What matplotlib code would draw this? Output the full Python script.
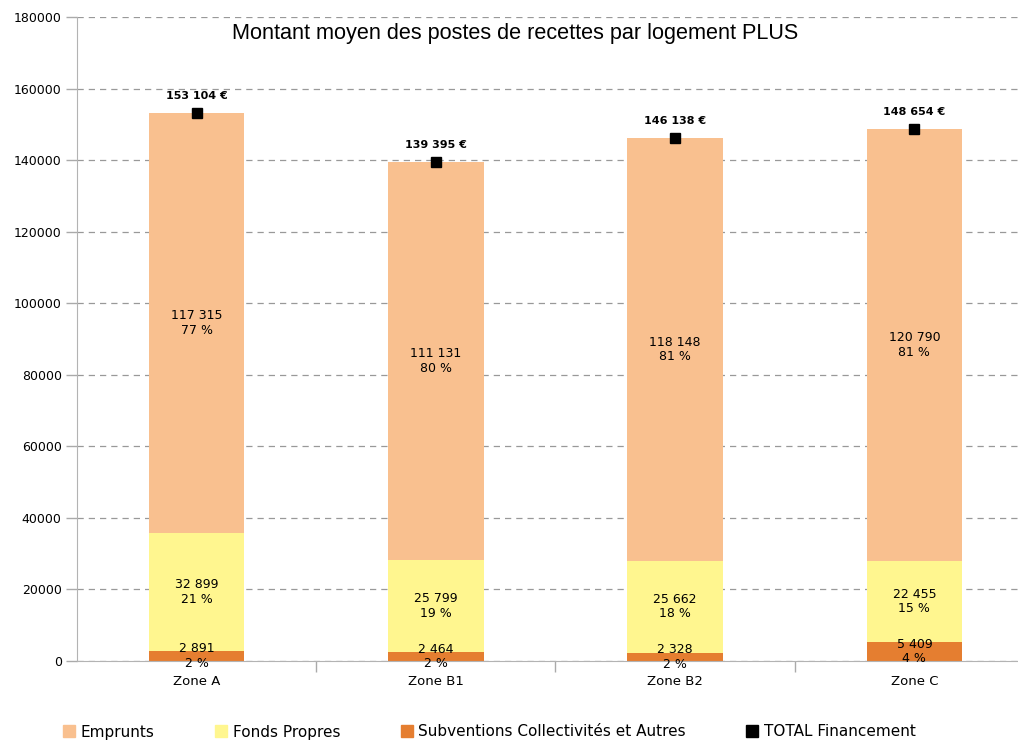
import matplotlib
matplotlib.use("Agg")
import matplotlib.pyplot as plt
from matplotlib.lines import Line2D
import numpy as np

zones = ["Zone A", "Zone B1", "Zone B2", "Zone C"]
subventions = [2891, 2464, 2328, 5409]
fonds_propres = [32899, 25799, 25662, 22455]
emprunts = [117315, 111131, 118148, 120790]
totaux = [153104, 139395, 146138, 148654]
pct_sub = [2, 2, 2, 4]
pct_fonds = [21, 19, 18, 15]
pct_emp = [77, 80, 81, 81]

c_emp = "#F9C08F"
c_fonds = "#FFF68F"
c_sub = "#E57E30"


def fmt(v):
    return "{:,}".format(v).replace(",", " ")


fig = plt.figure(figsize=(10.18, 7.43), dpi=100)
ax = fig.add_axes([0.0756, 0.1104, 0.9244, 0.8667])

x = np.arange(len(zones))
w = 0.4
sub = np.array(subventions)
fp = np.array(fonds_propres)
em = np.array(emprunts)

ax.bar(x, sub, w, color=c_sub, zorder=2)
ax.bar(x, fp, w, bottom=sub, color=c_fonds, zorder=2)
ax.bar(x, em, w, bottom=sub + fp, color=c_emp, zorder=2)
ax.plot(x, totaux, "s", color="black", markersize=7, zorder=4)

for i in range(len(zones)):
    ax.text(x[i], sub[i] / 2, fmt(subventions[i]) + "\n" + str(pct_sub[i]) + " %",
            ha="center", va="center", fontsize=9, zorder=5, linespacing=1.15)
    ax.text(x[i], sub[i] + fp[i] / 2, fmt(fonds_propres[i]) + "\n" + str(pct_fonds[i]) + " %",
            ha="center", va="center", fontsize=9, zorder=5, linespacing=1.15)
    ax.text(x[i], sub[i] + fp[i] + em[i] / 2, fmt(emprunts[i]) + "\n" + str(pct_emp[i]) + " %",
            ha="center", va="center", fontsize=9, zorder=5, linespacing=1.15)
    ax.text(x[i], totaux[i] + 4700, fmt(totaux[i]) + " €", ha="center", va="center",
            fontsize=8, fontweight="bold", zorder=5)

ax.set_ylim(0, 180000)
ax.set_xlim(-0.5, 3.433)
ax.set_yticks(np.arange(0, 180001, 20000))
ax.set_yticklabels([str(v) for v in range(0, 180001, 20000)], fontsize=9)
ax.yaxis.grid(True, linestyle=(0, (5, 4)), color="#999999", linewidth=0.9, zorder=0)
ax.set_axisbelow(True)
ax.tick_params(axis="y", length=8, color="#aaaaaa", width=1, pad=3)

ax.set_xticks(x)
ax.set_xticklabels(zones, fontsize=9.5)
ax.set_xticks([0.5, 1.5, 2.5], minor=True)
ax.tick_params(axis="x", which="major", length=0, pad=10)
ax.tick_params(axis="x", which="minor", length=8, color="#aaaaaa", width=1)

for s in ["top", "right"]:
    ax.spines[s].set_visible(False)
ax.spines["left"].set_color("#b3b3b3")
ax.spines["bottom"].set_color("#b3b3b3")

fig.text(515 / 1018, 1 - 33 / 743, "Montant moyen des postes de recettes par logement PLUS",
         ha="center", va="center", fontsize=15.6, family="Liberation Sans")

handles = [
    Line2D([], [], marker="s", linestyle="", color=c_emp, markersize=8),
    Line2D([], [], marker="s", linestyle="", color=c_fonds, markersize=8),
    Line2D([], [], marker="s", linestyle="", color=c_sub, markersize=8),
    Line2D([], [], marker="s", linestyle="", color="black", markersize=8),
]
labels = ["Emprunts", "Fonds Propres", "Subventions Collectivités et Autres", "TOTAL Financement"]
fig.legend(handles, labels, loc="center left", bbox_to_anchor=(64 / 1018, 1 - 732 / 743),
           ncol=4, frameon=False, fontsize=11, handlelength=0.7, handletextpad=0.4,
           columnspacing=4.0, borderpad=0, borderaxespad=0)

fig.savefig("out.png", dpi=100)
